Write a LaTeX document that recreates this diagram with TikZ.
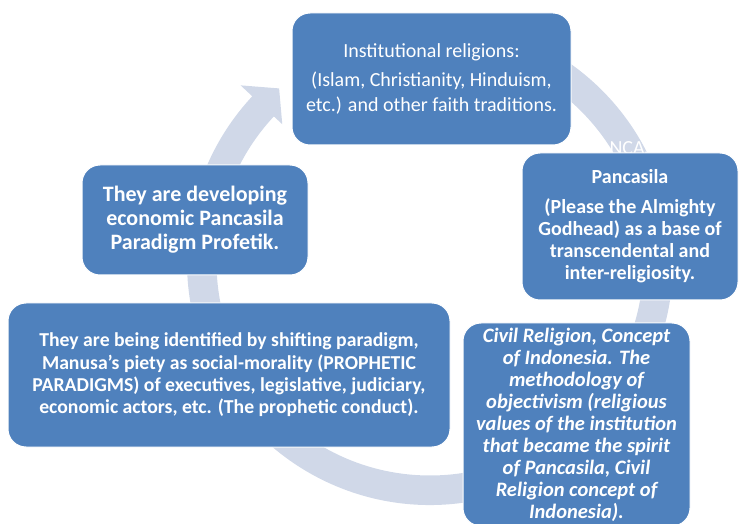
\documentclass[tikz,border=0pt]{standalone}
\usepackage{fontspec}
\setmainfont{Carlito}
\usetikzlibrary{calc}
\definecolor{boxblue}{RGB}{79,129,189}
\definecolor{ringgrey}{RGB}{208,216,232}
\newcommand{\outerrad}{243}
\newcommand{\innerrad}{213.5}

\begin{document}
\begin{tikzpicture}[x=1pt,y=1pt,
	cyclebox/.style={draw=white, line width=1pt, fill=boxblue, rounded corners=18pt,
		text=white, align=center, inner sep=0pt}]
	\useasboundingbox (0,0) rectangle (740,523);
	\coordinate (O) at (430,261);

	% the big circular arrow behind the boxes
	\fill[ringgrey] ($(O)+(100:\outerrad)$) arc[start angle=100, end angle=-223, radius=\outerrad]
		-- ($(O)+(137:259)$) -- ($(O)+(131:230)$) -- ($(O)+(137:202)$)
		-- ($(O)+(137:\innerrad)$) arc[start angle=-223, end angle=100, radius=\innerrad] -- cycle;
	\node[anchor=base, text=white, font=\fontsize{20}{24}\selectfont, inner sep=0pt] (ghost) at (634,368.4) {PANCASILA};

	\node[cyclebox, minimum width=279, minimum height=132, font=\fontsize{20}{25}\selectfont] (relig) at (431.5,444)
		{Institutional religions:\\[4pt](Islam, Christianity, Hinduism,\\etc.) and other faith traditions.};
	\node[cyclebox, minimum width=216, minimum height=147, font=\fontsize{20}{22}\selectfont\bfseries] (pancasila) at (630,296.5)
		{Pancasila\\[8pt](Please the Almighty\\Godhead) as a base of\\transcendental and\\inter-religiosity.};
	\node[cyclebox, minimum width=227, minimum height=203, font=\fontsize{20.5}{22}\selectfont\bfseries\itshape] (civil) at (576.5,98.5)
		{Civil Religion, Concept\\of Indonesia. The\\methodology of\\objectivism (religious\\values of the institution\\that became the spirit\\of Pancasila, Civil\\Religion concept of\\Indonesia).};
	\node[cyclebox, minimum width=442, minimum height=144, font=\fontsize{19.7}{22.3}\selectfont\bfseries] (prophetic) at (229,148)
		{They are being identified by shifting paradigm,\\Manusa's piety as social-morality (PROPHETIC\\PARADIGMS) of executives, legislative, judiciary,\\economic actors, etc. (The prophetic conduct).};
	\node[cyclebox, minimum width=226, minimum height=110, font=\fontsize{22}{24}\selectfont\bfseries] (develop) at (195,303)
		{They are developing\\economic Pancasila\\Paradigm Profetik.};
\end{tikzpicture}
\end{document}
